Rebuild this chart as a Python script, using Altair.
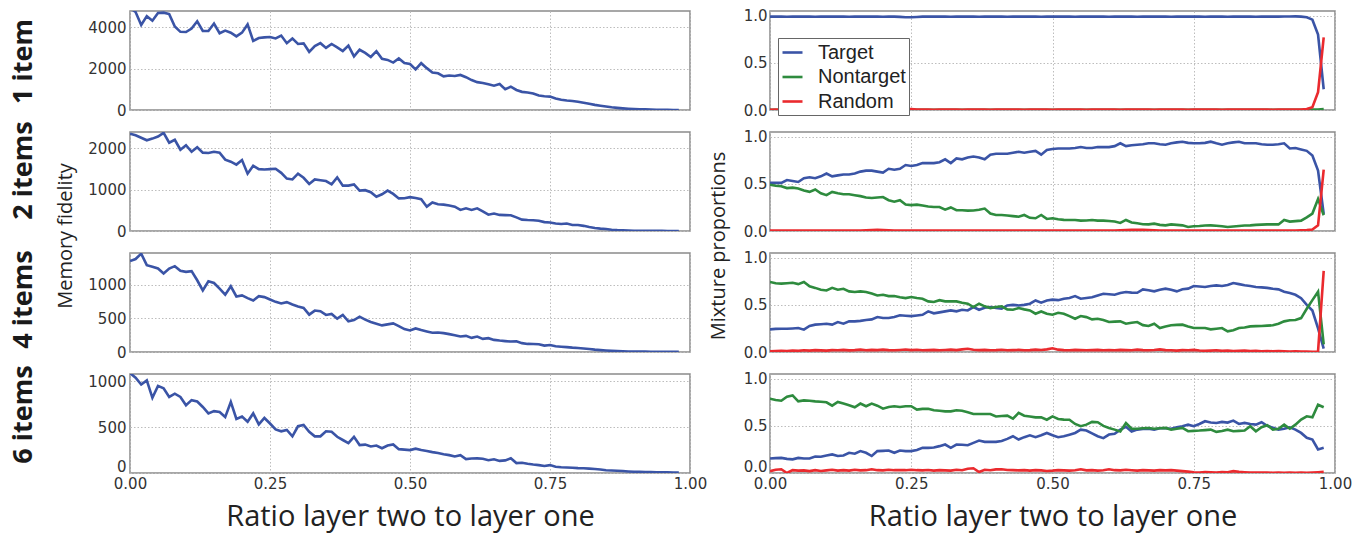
import altair as alt
import pandas as pd

# ---------------- data ----------------
X = [0.00, 0.01, 0.02, 0.03, 0.04, 0.05, 0.06, 0.07, 0.08, 0.09,
     0.10, 0.11, 0.12, 0.13, 0.14, 0.15, 0.16, 0.17, 0.18, 0.19,
     0.20, 0.21, 0.22, 0.23, 0.24, 0.25, 0.26, 0.27, 0.28, 0.29,
     0.30, 0.31, 0.32, 0.33, 0.34, 0.35, 0.36, 0.37, 0.38, 0.39,
     0.40, 0.41, 0.42, 0.43, 0.44, 0.45, 0.46, 0.47, 0.48, 0.49,
     0.50, 0.51, 0.52, 0.53, 0.54, 0.55, 0.56, 0.57, 0.58, 0.59,
     0.60, 0.61, 0.62, 0.63, 0.64, 0.65, 0.66, 0.67, 0.68, 0.69,
     0.70, 0.71, 0.72, 0.73, 0.74, 0.75, 0.76, 0.77, 0.78, 0.79,
     0.80, 0.81, 0.82, 0.83, 0.84, 0.85, 0.86, 0.87, 0.88, 0.89,
     0.90, 0.91, 0.92, 0.93, 0.94, 0.95, 0.96, 0.97, 0.98]

ROW_LABELS = ["1 item", "2 items", "4 items", "6 items"]
X_TICKS = [0.0, 0.25, 0.5, 0.75, 1.0]
X_TITLE = "Ratio layer two to layer one"
SERIES = ["Target", "Nontarget", "Random"]

# Memory fidelity (left column)
FID_1 = [4950, 4750, 4120, 4550, 4330, 4700, 4720, 4650, 4050, 3790,
         3780, 3950, 4300, 3830, 3830, 4190, 3720, 3850, 3750, 3570,
         3750, 4150, 3350, 3490, 3520, 3540, 3470, 3610, 3240, 3470,
         3200, 3230, 2820, 3100, 3240, 3010, 3200, 3040, 2860, 3120,
         2600, 2920, 2770, 2570, 2850, 2480, 2430, 2300, 2500, 2280,
         2230, 1970, 2270, 2030, 1820, 1780, 1630, 1670, 1650, 1700,
         1590, 1450, 1350, 1310, 1250, 1180, 1260, 1010, 1130, 970,
         880, 850, 800, 700, 670, 650, 560, 500, 460, 440,
         400, 350, 300, 250, 210, 170, 130, 105, 80, 60,
         45, 35, 28, 20, 15, 10, 6, 3, 1]
FID_2 = [2360, 2320, 2260, 2200, 2240, 2290, 2380, 2140, 2210, 1970,
         2080, 1920, 2030, 1900, 1890, 1920, 1900, 1730, 1680, 1610,
         1720, 1390, 1580, 1500, 1490, 1500, 1510, 1410, 1270, 1250,
         1390, 1290, 1140, 1250, 1230, 1210, 1130, 1300, 1100, 1100,
         1130, 980, 990, 940, 830, 890, 980, 900, 790, 795,
         820, 800, 770, 590, 690, 650, 640, 620, 590, 510,
         550, 510, 550, 475, 395, 425, 390, 385, 380, 330,
         275, 265, 260, 250, 215, 205, 180, 170, 180, 145,
         145, 125, 95, 72, 58, 48, 32, 22, 15, 10,
         7, 5, 4, 3, 2, 2, 1, 1, 0]
FID_4 = [1350, 1380, 1460, 1290, 1265, 1240, 1165, 1240, 1275, 1205,
         1190, 1200, 1065, 915, 1050, 1025, 940, 850, 975, 825,
         840, 800, 765, 830, 815, 780, 745, 720, 740, 705,
         675, 655, 555, 615, 605, 550, 565, 495, 550, 455,
         475, 525, 480, 445, 420, 395, 410, 425, 385, 340,
         320, 350, 325, 305, 285, 290, 280, 265, 250, 230,
         240, 210, 230, 195, 205, 180, 170, 162, 155, 160,
         132, 120, 119, 115, 95, 104, 85, 78, 72, 65,
         60, 52, 45, 35, 28, 22, 17, 13, 10, 8,
         6, 5, 5, 4, 4, 3, 3, 2, 2]
FID_6 = [1090, 1040, 965, 1010, 820, 950, 925, 830, 865, 830,
         740, 795, 780, 720, 650, 675, 665, 610, 775, 590,
         615, 560, 650, 530, 600, 540, 475, 455, 470, 400,
         510, 525, 450, 400, 400, 455, 450, 395, 360, 325,
         395, 305, 310, 290, 300, 270, 300, 312, 260, 255,
         250, 265, 250, 240, 228, 218, 205, 195, 180, 195,
         152, 158, 160, 155, 140, 150, 132, 138, 160, 108,
         112, 100, 92, 86, 76, 86, 68, 63, 60, 58,
         53, 51, 48, 44, 38, 30, 27, 24, 21, 17,
         14, 13, 11, 10, 9, 8, 7, 6, 5]

# Mixture proportions (right column)
T_1 = [0.990, 0.991, 0.990, 0.989, 0.990, 0.991, 0.990, 0.990, 0.989, 0.990,
       0.990, 0.991, 0.990, 0.990, 0.989, 0.990, 0.991, 0.990, 0.990, 0.990,
       0.989, 0.990, 0.990, 0.988, 0.984, 0.983, 0.987, 0.990, 0.990, 0.991,
       0.990, 0.990, 0.989, 0.990, 0.991, 0.990, 0.990, 0.989, 0.990, 0.990,
       0.991, 0.990, 0.989, 0.990, 0.990, 0.991, 0.990, 0.990, 0.989, 0.990,
       0.990, 0.991, 0.990, 0.990, 0.989, 0.990, 0.990, 0.991, 0.990, 0.990,
       0.989, 0.990, 0.991, 0.990, 0.990, 0.989, 0.990, 0.990, 0.991, 0.990,
       0.990, 0.989, 0.990, 0.990, 0.991, 0.990, 0.990, 0.989, 0.990, 0.990,
       0.990, 0.989, 0.990, 0.990, 0.991, 0.990, 0.989, 0.990, 0.990, 0.991,
       0.990, 0.991, 0.992, 0.993, 0.990, 0.984, 0.958, 0.800, 0.220]
N_1 = [0.002, 0.002, 0.003, 0.002, 0.002, 0.003, 0.002, 0.002, 0.002, 0.003,
       0.002, 0.002, 0.003, 0.002, 0.002, 0.002, 0.003, 0.002, 0.002, 0.002,
       0.003, 0.002, 0.002, 0.003, 0.004, 0.004, 0.003, 0.002, 0.002, 0.002,
       0.002, 0.003, 0.002, 0.002, 0.002, 0.003, 0.002, 0.002, 0.002, 0.003,
       0.002, 0.002, 0.003, 0.002, 0.002, 0.002, 0.003, 0.002, 0.002, 0.002,
       0.003, 0.002, 0.002, 0.002, 0.003, 0.002, 0.002, 0.002, 0.003, 0.002,
       0.002, 0.003, 0.002, 0.002, 0.002, 0.003, 0.002, 0.002, 0.002, 0.003,
       0.002, 0.002, 0.003, 0.002, 0.002, 0.002, 0.003, 0.002, 0.002, 0.002,
       0.003, 0.002, 0.002, 0.002, 0.003, 0.002, 0.002, 0.002, 0.003, 0.002,
       0.002, 0.002, 0.003, 0.002, 0.002, 0.003, 0.004, 0.006, 0.010]
R_1 = [0.003, 0.004, 0.003, 0.004, 0.005, 0.004, 0.003, 0.004, 0.005, 0.004,
       0.003, 0.004, 0.004, 0.003, 0.005, 0.004, 0.003, 0.004, 0.004, 0.003,
       0.004, 0.005, 0.004, 0.006, 0.008, 0.009, 0.006, 0.004, 0.004, 0.003,
       0.004, 0.004, 0.005, 0.004, 0.003, 0.004, 0.004, 0.005, 0.004, 0.003,
       0.004, 0.004, 0.005, 0.004, 0.004, 0.003, 0.004, 0.004, 0.005, 0.004,
       0.003, 0.004, 0.004, 0.005, 0.004, 0.004, 0.003, 0.004, 0.004, 0.005,
       0.004, 0.004, 0.003, 0.004, 0.004, 0.005, 0.004, 0.004, 0.003, 0.004,
       0.004, 0.005, 0.004, 0.004, 0.003, 0.004, 0.004, 0.005, 0.004, 0.004,
       0.003, 0.004, 0.004, 0.005, 0.004, 0.004, 0.005, 0.004, 0.004, 0.003,
       0.004, 0.004, 0.004, 0.005, 0.006, 0.010, 0.030, 0.190, 0.770]

T_2 = [0.51, 0.51, 0.51, 0.54, 0.53, 0.52, 0.56, 0.57, 0.56, 0.58,
       0.61, 0.58, 0.59, 0.60, 0.60, 0.61, 0.63, 0.64, 0.64, 0.63,
       0.62, 0.66, 0.65, 0.66, 0.70, 0.69, 0.70, 0.72, 0.72, 0.72,
       0.73, 0.76, 0.72, 0.77, 0.76, 0.78, 0.79, 0.78, 0.76, 0.81,
       0.82, 0.82, 0.82, 0.83, 0.84, 0.83, 0.84, 0.85, 0.81, 0.86,
       0.87, 0.875, 0.875, 0.875, 0.88, 0.89, 0.88, 0.88, 0.89, 0.89,
       0.89, 0.90, 0.93, 0.90, 0.91, 0.915, 0.92, 0.93, 0.93, 0.92,
       0.915, 0.93, 0.94, 0.947, 0.935, 0.93, 0.93, 0.935, 0.947, 0.93,
       0.915, 0.93, 0.94, 0.947, 0.93, 0.93, 0.93, 0.92, 0.915, 0.915,
       0.92, 0.93, 0.875, 0.88, 0.865, 0.85, 0.80, 0.64, 0.18]
N_2 = [0.49, 0.48, 0.475, 0.455, 0.46, 0.45, 0.43, 0.415, 0.44, 0.40,
       0.38, 0.415, 0.40, 0.39, 0.39, 0.38, 0.37, 0.355, 0.35, 0.355,
       0.36, 0.327, 0.31, 0.327, 0.28, 0.275, 0.28, 0.27, 0.26, 0.255,
       0.255, 0.227, 0.25, 0.22, 0.22, 0.216, 0.218, 0.225, 0.238, 0.185,
       0.17, 0.17, 0.165, 0.158, 0.152, 0.17, 0.14, 0.135, 0.17, 0.128,
       0.135, 0.125, 0.118, 0.117, 0.117, 0.11, 0.112, 0.117, 0.11, 0.11,
       0.106, 0.10, 0.085, 0.117, 0.09, 0.082, 0.072, 0.07, 0.078, 0.065,
       0.06, 0.07, 0.065, 0.06, 0.043, 0.05, 0.053, 0.058, 0.06, 0.055,
       0.05, 0.043, 0.048, 0.053, 0.058, 0.06, 0.065, 0.068, 0.07, 0.07,
       0.07, 0.117, 0.10, 0.105, 0.11, 0.145, 0.185, 0.34, 0.167]
R_2 = [0.004, 0.005, 0.004, 0.006, 0.005, 0.004, 0.006, 0.005, 0.004, 0.005,
       0.006, 0.005, 0.004, 0.005, 0.006, 0.005, 0.006, 0.008, 0.010, 0.012,
       0.010, 0.008, 0.006, 0.005, 0.006, 0.005, 0.004, 0.005, 0.006, 0.005,
       0.004, 0.005, 0.006, 0.005, 0.004, 0.006, 0.005, 0.004, 0.005, 0.006,
       0.005, 0.004, 0.005, 0.006, 0.005, 0.004, 0.005, 0.006, 0.005, 0.004,
       0.005, 0.006, 0.005, 0.004, 0.005, 0.006, 0.005, 0.004, 0.005, 0.006,
       0.005, 0.006, 0.008, 0.010, 0.012, 0.014, 0.012, 0.010, 0.008, 0.006,
       0.005, 0.004, 0.005, 0.006, 0.005, 0.004, 0.005, 0.006, 0.005, 0.004,
       0.005, 0.004, 0.005, 0.004, 0.005, 0.004, 0.005, 0.004, 0.005, 0.006,
       0.005, 0.006, 0.005, 0.006, 0.008, 0.010, 0.015, 0.060, 0.650]

T_4 = [0.24, 0.245, 0.247, 0.247, 0.25, 0.254, 0.237, 0.276, 0.29, 0.295,
       0.30, 0.29, 0.318, 0.30, 0.325, 0.325, 0.33, 0.34, 0.346, 0.371,
       0.36, 0.36, 0.371, 0.39, 0.385, 0.381, 0.388, 0.395, 0.431, 0.41,
       0.42, 0.431, 0.441, 0.431, 0.448, 0.441, 0.477, 0.448, 0.47, 0.477,
       0.466, 0.459, 0.494, 0.50, 0.494, 0.50, 0.512, 0.547, 0.523, 0.547,
       0.555, 0.55, 0.565, 0.572, 0.593, 0.565, 0.572, 0.58, 0.60, 0.618,
       0.612, 0.607, 0.625, 0.636, 0.63, 0.628, 0.664, 0.655, 0.643, 0.66,
       0.672, 0.66, 0.643, 0.665, 0.672, 0.70, 0.695, 0.69, 0.70, 0.707,
       0.70, 0.71, 0.732, 0.72, 0.707, 0.70, 0.69, 0.685, 0.68, 0.67,
       0.664, 0.64, 0.625, 0.607, 0.57, 0.50, 0.44, 0.25, 0.035]
N_4 = [0.742, 0.73, 0.725, 0.73, 0.735, 0.72, 0.742, 0.696, 0.68, 0.66,
       0.653, 0.68, 0.66, 0.67, 0.643, 0.636, 0.643, 0.636, 0.62, 0.60,
       0.607, 0.593, 0.593, 0.58, 0.572, 0.583, 0.572, 0.565, 0.537, 0.53,
       0.55, 0.537, 0.537, 0.537, 0.523, 0.512, 0.477, 0.512, 0.484, 0.466,
       0.477, 0.485, 0.452, 0.448, 0.466, 0.452, 0.441, 0.406, 0.43, 0.406,
       0.395, 0.416, 0.406, 0.38, 0.353, 0.381, 0.37, 0.346, 0.353, 0.34,
       0.318, 0.322, 0.325, 0.30, 0.31, 0.318, 0.285, 0.276, 0.30, 0.254,
       0.27, 0.283, 0.288, 0.29, 0.27, 0.254, 0.254, 0.254, 0.24, 0.247,
       0.254, 0.219, 0.23, 0.254, 0.26, 0.272, 0.274, 0.276, 0.28, 0.283,
       0.30, 0.325, 0.336, 0.34, 0.36, 0.459, 0.55, 0.64, 0.08]
R_4 = [0.008, 0.010, 0.012, 0.010, 0.015, 0.012, 0.018, 0.015, 0.020, 0.017,
       0.015, 0.020, 0.018, 0.022, 0.017, 0.020, 0.025, 0.018, 0.022, 0.020,
       0.025, 0.020, 0.018, 0.022, 0.026, 0.020, 0.024, 0.018, 0.020, 0.022,
       0.018, 0.022, 0.025, 0.020, 0.028, 0.035, 0.024, 0.020, 0.022, 0.018,
       0.020, 0.024, 0.018, 0.020, 0.022, 0.018, 0.020, 0.025, 0.022, 0.028,
       0.040, 0.025, 0.020, 0.018, 0.022, 0.020, 0.018, 0.020, 0.022, 0.018,
       0.020, 0.018, 0.022, 0.020, 0.018, 0.025, 0.020, 0.018, 0.022, 0.028,
       0.020, 0.018, 0.015, 0.020, 0.018, 0.022, 0.016, 0.012, 0.015, 0.018,
       0.012, 0.015, 0.010, 0.012, 0.015, 0.010, 0.012, 0.008, 0.010, 0.008,
       0.010, 0.008, 0.006, 0.008, 0.005, 0.004, 0.003, 0.006, 0.860]

T_6 = [0.154, 0.158, 0.16, 0.15, 0.145, 0.16, 0.154, 0.154, 0.175, 0.172,
       0.185, 0.197, 0.18, 0.186, 0.214, 0.204, 0.232, 0.214, 0.18, 0.232,
       0.235, 0.239, 0.214, 0.239, 0.232, 0.232, 0.245, 0.267, 0.267, 0.27,
       0.285, 0.302, 0.267, 0.302, 0.30, 0.295, 0.32, 0.344, 0.33, 0.33,
       0.33, 0.34, 0.362, 0.39, 0.355, 0.38, 0.40, 0.38, 0.40, 0.425,
       0.40, 0.38, 0.39, 0.407, 0.425, 0.46, 0.45, 0.42, 0.39, 0.37,
       0.408, 0.415, 0.46, 0.49, 0.44, 0.46, 0.468, 0.47, 0.46, 0.475,
       0.475, 0.47, 0.485, 0.496, 0.513, 0.496, 0.52, 0.549, 0.535, 0.531,
       0.542, 0.535, 0.556, 0.52, 0.531, 0.52, 0.513, 0.538, 0.50, 0.48,
       0.46, 0.47, 0.485, 0.46, 0.425, 0.373, 0.355, 0.25, 0.267]
N_6 = [0.788, 0.775, 0.767, 0.81, 0.823, 0.76, 0.77, 0.767, 0.76, 0.755,
       0.75, 0.714, 0.753, 0.736, 0.718, 0.697, 0.736, 0.708, 0.736, 0.714,
       0.682, 0.70, 0.708, 0.70, 0.708, 0.708, 0.673, 0.68, 0.682, 0.665,
       0.66, 0.654, 0.654, 0.665, 0.66, 0.645, 0.626, 0.626, 0.626, 0.626,
       0.60, 0.605, 0.608, 0.577, 0.637, 0.608, 0.60, 0.59, 0.59, 0.565,
       0.60, 0.573, 0.566, 0.565, 0.52, 0.496, 0.513, 0.542, 0.538, 0.50,
       0.478, 0.46, 0.44, 0.53, 0.47, 0.47, 0.475, 0.478, 0.47, 0.475,
       0.478, 0.46, 0.47, 0.478, 0.443, 0.447, 0.45, 0.455, 0.46, 0.436,
       0.445, 0.46, 0.443, 0.447, 0.45, 0.496, 0.443, 0.485, 0.506, 0.46,
       0.47, 0.513, 0.47, 0.513, 0.566, 0.601, 0.591, 0.724, 0.697]
R_6 = [0.020, 0.035, 0.040, 0.000, 0.030, 0.025, 0.028, 0.020, 0.030, 0.022,
       0.028, 0.035, 0.025, 0.030, 0.025, 0.035, 0.028, 0.030, 0.040, 0.030,
       0.028, 0.035, 0.030, 0.032, 0.030, 0.035, 0.030, 0.028, 0.032, 0.025,
       0.030, 0.028, 0.025, 0.035, 0.030, 0.045, 0.050, 0.010, 0.035, 0.030,
       0.038, 0.040, 0.032, 0.030, 0.028, 0.030, 0.025, 0.030, 0.028, 0.022,
       0.025, 0.030, 0.028, 0.025, 0.030, 0.040, 0.028, 0.030, 0.025, 0.030,
       0.040, 0.030, 0.028, 0.035, 0.030, 0.025, 0.030, 0.028, 0.025, 0.030,
       0.028, 0.030, 0.025, 0.020, 0.015, 0.008, 0.005, 0.010, 0.008, 0.005,
       0.010, 0.008, 0.020, 0.012, 0.008, 0.005, 0.004, 0.006, 0.004, 0.003,
       0.004, 0.003, 0.005, 0.003, 0.004, 0.003, 0.005, 0.008, 0.012]

FIDELITY = [FID_1, FID_2, FID_4, FID_6]
FID_MAX = [4800, 2400, 1470, 1080]
FID_TICKS = [[0, 2000, 4000], [0, 1000, 2000], [0, 500, 1000], [0, 500, 1000]]
MIXTURE = [(T_1, N_1, R_1), (T_2, N_2, R_2), (T_4, N_4, R_4), (T_6, N_6, R_6)]

# ---------------- style ----------------
BLUE, GREEN, RED = "#3a54a6", "#2e8b3e", "#ea2a2e"
TITLE_FONT = "Open Sans"
LW, RW, PH = 560, 565, 99
ROW_LABEL_Y = [50, 38, 46, 40]


def x_axis(bottom):
    kw = dict(values=X_TICKS, format=".2f", labelFlush=False, labelPadding=3)
    if bottom:
        return alt.Axis(labels=True, title=X_TITLE, titleFontSize=29,
                        titlePadding=11, **kw)
    return alt.Axis(labels=False, title=None, **kw)


def y_offset(bottom):
    # the bottom row's "0" label sits a little above the frame corner
    return {"expr": "datum.value == 0 ? -7 : 0"} if bottom else 0


def left_panel(i):
    df = pd.DataFrame({"x": X, "v": FIDELITY[i]})
    bottom = i == 3
    line = alt.Chart(df).mark_line(color=BLUE, strokeWidth=2.6, clip=True).encode(
        x=alt.X("x:Q", scale=alt.Scale(domain=[0, 1], nice=False, zero=False),
                axis=x_axis(bottom)),
        y=alt.Y("v:Q", scale=alt.Scale(domain=[0, FID_MAX[i]], nice=False),
                axis=alt.Axis(values=FID_TICKS[i], format="d", labelPadding=4,
                              labelOffset=y_offset(bottom),
                              title=ROW_LABELS[i], titleX=-107,
                              titleY=ROW_LABEL_Y[i],
                              titleAngle=270, titleAlign="center",
                              titleBaseline="middle", titleFontSize=27,
                              titleFontWeight="bold", titleColor="#1a1a1a")),
    ).properties(width=LW, height=PH)
    if i == 1:
        lab = alt.Chart(pd.DataFrame({"t": ["Memory fidelity"]})).mark_text(
            angle=270, fontSize=20, font=TITLE_FONT, color="#222",
            align="center", baseline="middle"
        ).encode(text="t:N", x=alt.value(-64), y=alt.value(104))
        return alt.layer(line, lab)
    return line


def right_panel(i):
    t, n, r = MIXTURE[i]
    rows = []
    for name, vals in zip(SERIES, (t, n, r)):
        rows.append(pd.DataFrame({"x": X, "v": vals, "s": name}))
    df = pd.concat(rows, ignore_index=True)
    bottom = i == 3
    if i == 0:
        legend = alt.Legend(orient="none", legendX=8, legendY=27, title=None,
                            direction="vertical", symbolType="stroke",
                            symbolStrokeWidth=2.6, symbolSize=400,
                            labelFontSize=20, labelFont="Liberation Sans",
                            labelColor="#222", padding=3, strokeColor="#666",
                            fillColor="white", rowPadding=2.5, labelOffset=14,
                            cornerRadius=0)
    else:
        legend = None
    line = alt.Chart(df).mark_line(strokeWidth=2.6, clip=True).encode(
        x=alt.X("x:Q", scale=alt.Scale(domain=[0, 1], nice=False, zero=False),
                axis=x_axis(bottom)),
        y=alt.Y("v:Q", scale=alt.Scale(domain=[0, 1.05], nice=False),
                axis=alt.Axis(values=[0, 0.5, 1.0], format=".1f",
                              labelOffset=y_offset(bottom),
                              labelPadding=3, title=None)),
        color=alt.Color("s:N", scale=alt.Scale(domain=SERIES,
                                               range=[BLUE, GREEN, RED]),
                        legend=legend),
        detail="s:N",
    ).properties(width=RW, height=PH)
    if i == 1:
        lab = alt.Chart(pd.DataFrame({"t": ["Mixture proportions"]})).mark_text(
            angle=270, fontSize=20, font=TITLE_FONT, color="#222",
            align="center", baseline="middle"
        ).encode(text="t:N", x=alt.value(-51), y=alt.value(114))
        return alt.layer(line, lab)
    return line


panels = []
for i in range(4):
    panels.append(left_panel(i))
    panels.append(right_panel(i))

chart = alt.concat(
    *panels, columns=2, spacing={"row": 22, "column": 80}, bounds="flush"
).resolve_scale(color="independent").resolve_legend(
    color="independent"
).properties(
    padding={"left": 8, "top": 7, "right": 5, "bottom": 5}
).configure_view(
    stroke="#8a8a8a", strokeWidth=1.5
).configure_axis(
    domain=False, ticks=False, grid=True, gridColor="#bdbdbd",
    gridDash=[1.5, 2], gridWidth=1, labelFont="DejaVu Sans", labelFontSize=15,
    labelColor="#333", titleFont=TITLE_FONT, titleColor="#222",
    titleFontWeight="normal"
)

chart.save("out.html", embed_options={"renderer": "svg", "actions": False})
